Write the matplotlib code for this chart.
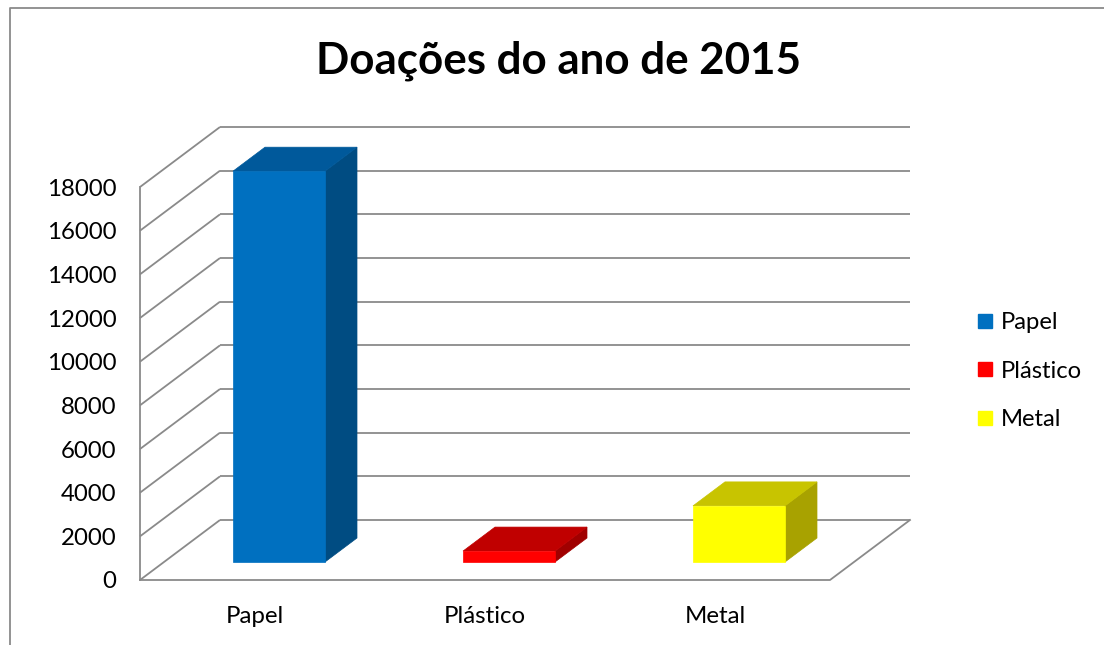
import matplotlib
matplotlib.use("Agg")
import matplotlib.pyplot as plt
from matplotlib.patches import Polygon
from matplotlib.lines import Line2D

# ---- data ----
categories = ["Papel", "Plástico", "Metal"]
values = [17900, 500, 2570]
front_colors = ["#0070C0", "#FF0000", "#FFFF00"]
top_colors = ["#00599B", "#C00000", "#C8C400"]
side_colors = ["#004C82", "#A00000", "#A8A200"]
yticks = list(range(0, 18001, 2000))
title = "Doações do ano de 2015"

plt.rcParams['font.family'] = ['Lato', 'DejaVu Sans']

W, H = 1104, 645
fig = plt.figure(figsize=(W / 100, H / 100), dpi=100)

# axes = front plane of the 3-D box
L, R, B, T = 140, 830, 580, 187
ax = fig.add_axes([L / W, (H - B) / H, (R - L) / W, (B - T) / H])
ax.set_xlim(0, len(categories))
ax.set_ylim(0, 18000)
for s in ax.spines.values():
    s.set_visible(False)

# depth offsets (in data units)
DX = 80 / ((R - L) / len(categories))
DY = 60 / (B - T) * 18000

grid_c = "#8A8A8A"
lw = 1.3
n = len(categories)
for v in yticks:
    ax.plot([0, DX], [v, v + DY], color=grid_c, lw=lw, clip_on=False, zorder=1,
            solid_capstyle='butt')
    ax.plot([DX, n + DX], [v + DY, v + DY], color=grid_c, lw=lw, clip_on=False,
            zorder=1, solid_capstyle='butt')
ax.plot([0, 0], [0, yticks[-1]], color=grid_c, lw=lw, clip_on=False, zorder=1)
ax.plot([0, n, n + DX], [0, 0, DY], color=grid_c, lw=lw, clip_on=False, zorder=1)

# bars
f0, f1 = 0.3, 0.7
bw0, bw1 = 0.3, 0.7
for i, v in enumerate(values):
    x0, x1 = i + bw0, i + bw1
    front = [(x0 + f0 * DX, f0 * DY), (x1 + f0 * DX, f0 * DY),
             (x1 + f0 * DX, v + f0 * DY), (x0 + f0 * DX, v + f0 * DY)]
    top = [(x0 + f0 * DX, v + f0 * DY), (x1 + f0 * DX, v + f0 * DY),
           (x1 + f1 * DX, v + f1 * DY), (x0 + f1 * DX, v + f1 * DY)]
    side = [(x1 + f0 * DX, f0 * DY), (x1 + f1 * DX, f1 * DY),
            (x1 + f1 * DX, v + f1 * DY), (x1 + f0 * DX, v + f0 * DY)]
    for pts, c in [(side, side_colors[i]), (top, top_colors[i]), (front, front_colors[i])]:
        ax.add_patch(Polygon(pts, closed=True, facecolor=c, edgecolor=c, lw=0.5,
                             clip_on=False, zorder=3))

ax.set_yticks(yticks)
ax.set_yticklabels([str(t) for t in yticks])
ax.set_xticks([i + 0.5 for i in range(n)])
ax.set_xticklabels(categories)
ax.tick_params(axis='y', length=0, pad=17, labelsize=17.3)
ax.tick_params(axis='x', length=0, pad=19, labelsize=17.3)

# legend
handles = [Line2D([], [], marker='s', linestyle='none', markersize=10,
                  markerfacecolor=c, markeredgecolor=c) for c in front_colors]
fig.legend(handles, categories, loc='center left',
           bbox_to_anchor=(965 / W, 1 - 371 / H), frameon=False,
           fontsize=17.2, handletextpad=0.2, labelspacing=1.15, handlelength=0.9,
           borderaxespad=0)

fig.text(558 / W, 1 - 61 / H, title, ha='center', va='center',
         fontsize=31.6, fontweight='bold')

# outer chart border (left and top)
fig.add_artist(Line2D([10 / W, 10 / W, 1], [0, 1 - 8 / H, 1 - 8 / H],
                      transform=fig.transFigure, color="#8A8A8A", lw=1.3))

fig.savefig("out.png", dpi=100, facecolor="white")
